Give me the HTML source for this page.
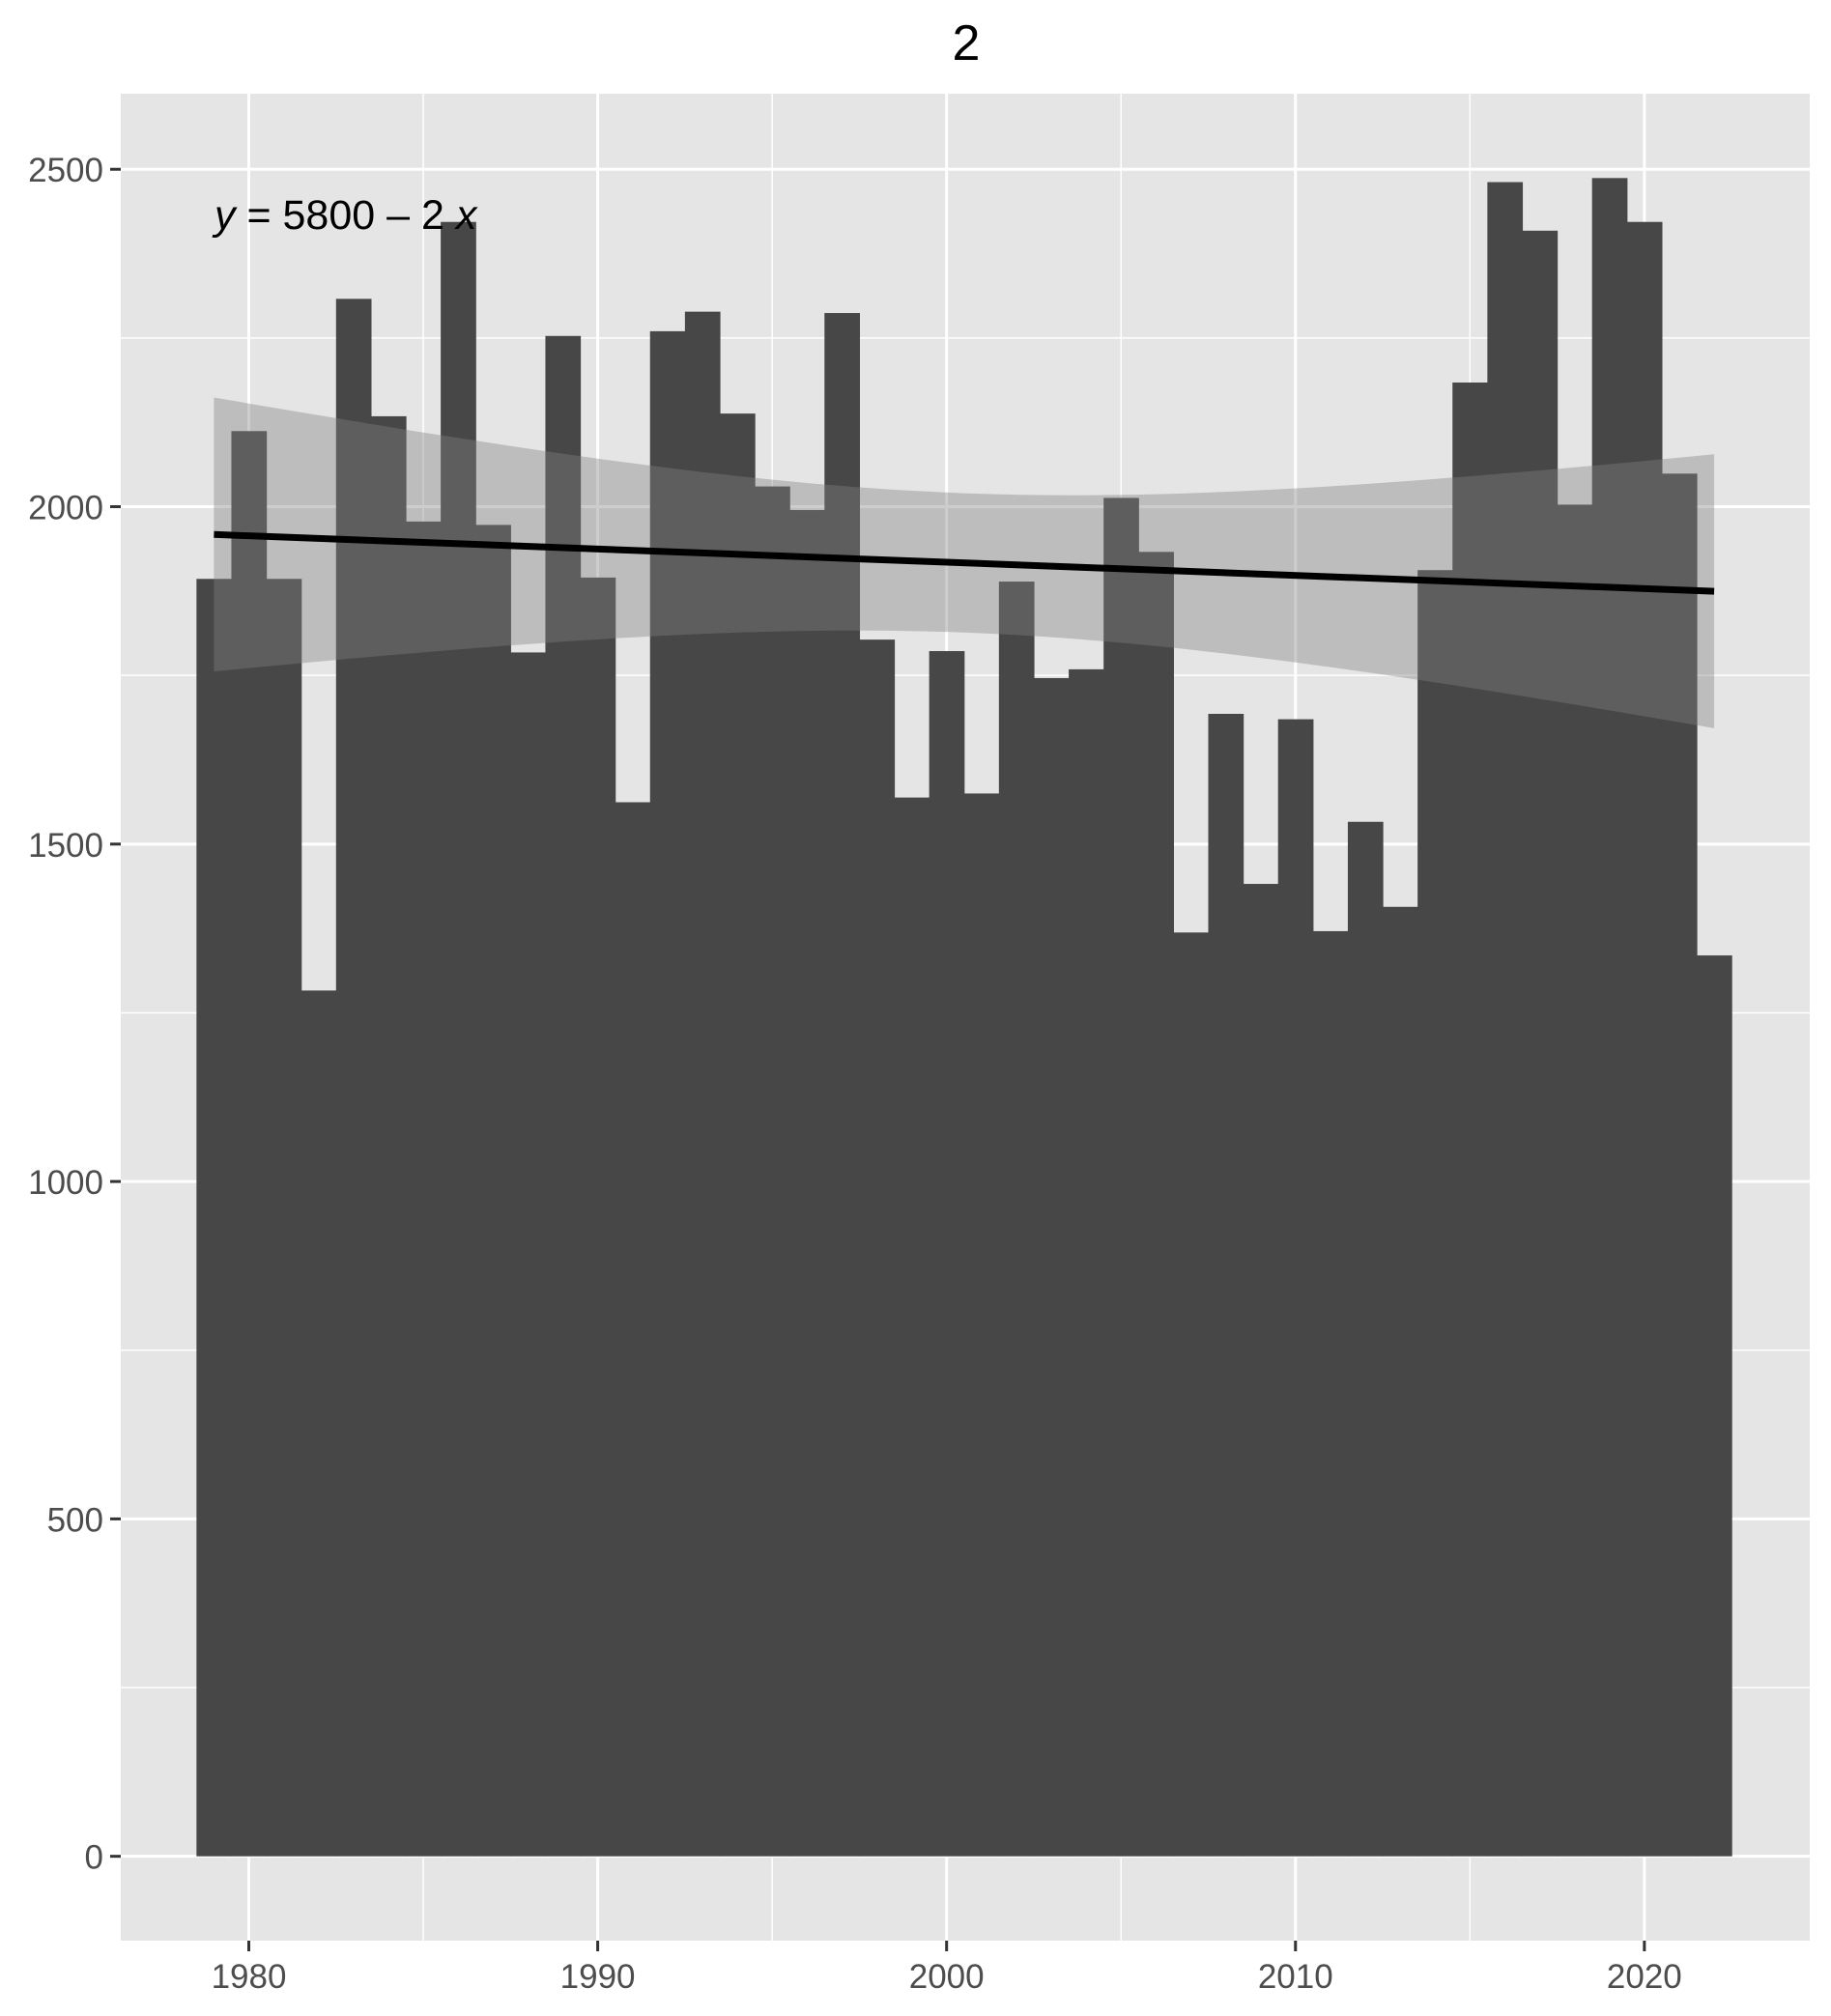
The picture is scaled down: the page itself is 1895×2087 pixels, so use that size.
<!DOCTYPE html>
<html><head><meta charset="utf-8"><style>
html,body{margin:0;padding:0;background:#fff;}
svg{display:block;font-family:"Liberation Sans",Arial,sans-serif;}
</style></head><body>
<svg id="chart" width="1895" height="2087" viewBox="0 0 1895 2087">
<text x="1000" y="62" text-anchor="middle" font-size="52" fill="#000">2</text>
<rect x="125" y="97" width="1748" height="1912" fill="#e5e5e5"/>
<g id="grid"></g>
<g id="bars"></g>
<g id="smooth"></g>
<g id="axes"></g>
<text x="222" y="237" font-size="43" fill="#000"><tspan font-style="italic">y</tspan> = 5800 – 2 <tspan font-style="italic">x</tspan></text>
</svg>
<script>
const years = [1979,1980,1981,1982,1983,1984,1985,1986,1987,1988,1989,1990,1991,1992,1993,1994,1995,1996,1997,1998,1999,2000,2001,2002,2003,2004,2005,2006,2007,2008,2009,2010,2011,2012,2013,2014,2015,2016,2017,2018,2019,2020,2021,2022];
const values = [1893,2112,1893,1283,2308,2134,1978,2422,1973,1784,2253,1895,1562,2260,2289,2138,2030,1995,2287,1803,1569,1786,1575,1889,1746,1759,2013,1933,1369,1693,1441,1685,1371,1533,1407,1906,2184,2481,2409,2003,2487,2422,2049,1335];
const xTicks = [1980,1990,2000,2010,2020];
const xMinor = [1985,1995,2005,2015];
const yTicks = [0,500,1000,1500,2000,2500];
const yMinor = [250,750,1250,1750,2250];

const NS="http://www.w3.org/2000/svg";
const X0=125,X1=1873,Y0=97,Y1=2009;
const xMin=1976.33,xMax=2024.74,yMin=-125,yMax=2612;
const sx=v=>X0+(v-xMin)/(xMax-xMin)*(X1-X0);
const sy=v=>Y1-(v-yMin)/(yMax-yMin)*(Y1-Y0);
function mk(tag,attrs,parent){const e=document.createElementNS(NS,tag);for(const k in attrs)e.setAttribute(k,attrs[k]);parent.appendChild(e);return e;}
const grid=document.getElementById('grid'),bars=document.getElementById('bars'),sm=document.getElementById('smooth'),axes=document.getElementById('axes');
yMinor.forEach(v=>{const l=mk('line',{x1:X0,x2:X1,y1:sy(v),y2:sy(v),stroke:'#fff','stroke-width':1.5},grid);

});
xMinor.forEach(v=>{const l=mk('line',{x1:sx(v),x2:sx(v),y1:Y0,y2:Y1,stroke:'#fff','stroke-width':1.5},grid);

});
yTicks.forEach(v=>{const l=mk('line',{x1:X0,x2:X1,y1:sy(v),y2:sy(v),stroke:'#fff','stroke-width':3},grid);


const t=mk('line',{x1:X0-11,x2:X0,y1:sy(v),y2:sy(v),stroke:'#333','stroke-width':3},axes);


const tx=mk('text',{x:X0-18,y:sy(v)+13,'text-anchor':'end','font-size':35,fill:'#4d4d4d'},axes);tx.textContent=v;

});
xTicks.forEach(v=>{const l=mk('line',{x1:sx(v),x2:sx(v),y1:Y0,y2:Y1,stroke:'#fff','stroke-width':3},grid);


const t=mk('line',{x1:sx(v),x2:sx(v),y1:Y1,y2:Y1+11,stroke:'#333','stroke-width':3},axes);


const tx=mk('text',{x:sx(v),y:2058,'text-anchor':'middle','font-size':35,fill:'#4d4d4d'},axes);tx.textContent=v;

});
years.forEach((yr,i)=>{const a=sx(yr-0.5),b=sx(yr+0.5);
const r=mk('rect',{x:a,y:sy(values[i]),width:b-a+0.6,height:sy(0)-sy(values[i]),fill:'#474747'},bars);

});
const n=years.length,mx=years.reduce((s,v)=>s+v,0)/n,my=values.reduce((s,v)=>s+v,0)/n;
let sxx=0,sxy=0;years.forEach((x,i)=>{sxx+=(x-mx)**2;sxy+=(x-mx)*(values[i]-my);});
const slope=sxy/sxx,icpt=my-slope*mx;
let sse=0;years.forEach((x,i)=>{sse+=(values[i]-icpt-slope*x)**2;});
const s=Math.sqrt(sse/(n-2)),tq=2.018;
const xs=[],up=[],lo=[];const xa=years[0],xb=years[n-1];
for(let k=0;k<=80;k++){const x=xa+(xb-xa)*k/80;const f=icpt+slope*x;const h=tq*s*Math.sqrt(1/n+(x-mx)**2/sxx);xs.push(x);up.push(f+h);lo.push(f-h);}
let d='';xs.forEach((x,k)=>{d+=(k?'L':'M')+sx(x).toFixed(1)+','+sy(up[k]).toFixed(1);});
for(let k=xs.length-1;k>=0;k--)d+='L'+sx(xs[k]).toFixed(1)+','+sy(lo[k]).toFixed(1);d+='Z';
const rib=mk('path',{d:d,fill:'#838383','fill-opacity':0.4},sm);


const ln=mk('line',{x1:sx(xa),y1:sy(icpt+slope*xa),x2:sx(xb),y2:sy(icpt+slope*xb),stroke:'#000','stroke-width':7},sm);


</script>
</body></html>
